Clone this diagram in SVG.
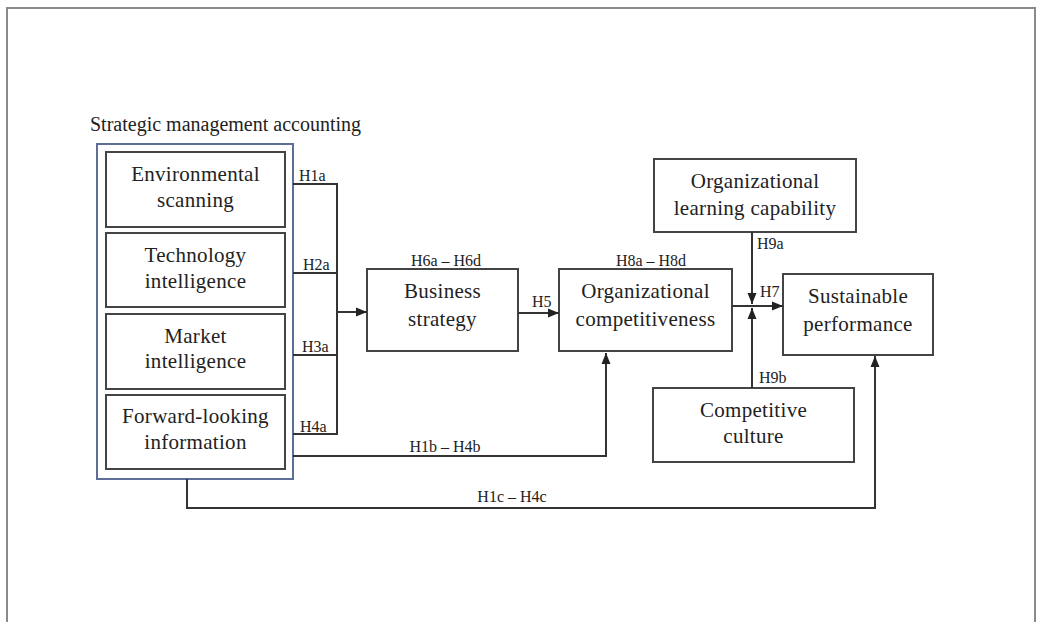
<svg xmlns="http://www.w3.org/2000/svg" width="1037" height="622" viewBox="0 0 1037 622">
<defs>
<style>
.frame{fill:none;stroke:#8a8a8a;stroke-width:2}
.box{fill:#fff;stroke:#444;stroke-width:2}
.outer{fill:#fff;stroke:#5d6f98;stroke-width:2}
.t{font-family:"Liberation Serif","Times New Roman",serif;font-size:21px;letter-spacing:0.3px;fill:#222;text-anchor:middle}
.title{font-family:"Liberation Serif","Times New Roman",serif;font-size:20px;fill:#222}
.lb{font-family:"Liberation Serif","Times New Roman",serif;font-size:16px;fill:#222}
.lbm{font-family:"Liberation Serif","Times New Roman",serif;font-size:16px;fill:#222;text-anchor:middle}
.c{fill:none;stroke:#333;stroke-width:2}
</style>
<marker id="ah" viewBox="0 0 11 10" refX="11" refY="5" markerWidth="11" markerHeight="10" markerUnits="userSpaceOnUse" orient="auto">
<path d="M0,0.5 L11,5 L0,9.5 Z" fill="#222"/>
</marker>
</defs>
<rect class="frame" x="7" y="8" width="1028" height="700"/>
<text class="title" x="90" y="131">Strategic management accounting</text>
<g id="sma">
<rect class="outer" x="97" y="144" width="196" height="335"/>
</g>
<g id="env">
<rect class="box" x="106" y="152" width="179" height="75"/>
<text class="t" x="195.5" y="181">Environmental</text>
<text class="t" x="195.5" y="207">scanning</text>
</g>
<g id="tech">
<rect class="box" x="106" y="233" width="179" height="74"/>
<text class="t" x="195.5" y="262">Technology</text>
<text class="t" x="195.5" y="288">intelligence</text>
</g>
<g id="market">
<rect class="box" x="106" y="314" width="179" height="75"/>
<text class="t" x="195.5" y="343">Market</text>
<text class="t" x="195.5" y="368">intelligence</text>
</g>
<g id="forward">
<rect class="box" x="106" y="395" width="179" height="74"/>
<text class="t" x="195.5" y="423">Forward-looking</text>
<text class="t" x="195.5" y="449">information</text>
</g>
<g id="business">
<rect class="box" x="367" y="269" width="151" height="82"/>
<text class="t" x="442.5" y="298">Business</text>
<text class="t" x="442.5" y="326">strategy</text>
</g>
<g id="orgcomp">
<rect class="box" x="559" y="269" width="173" height="82"/>
<text class="t" x="645.5" y="298">Organizational</text>
<text class="t" x="645.5" y="326">competitiveness</text>
</g>
<g id="olc">
<rect class="box" x="654" y="159" width="202" height="73"/>
<text class="t" x="755" y="188">Organizational</text>
<text class="t" x="755" y="215">learning capability</text>
</g>
<g id="culture">
<rect class="box" x="653" y="388" width="201" height="74"/>
<text class="t" x="753.5" y="417">Competitive</text>
<text class="t" x="753.5" y="443">culture</text>
</g>
<g id="sustain">
<rect class="box" x="783" y="274" width="150" height="81"/>
<text class="t" x="858" y="303">Sustainable</text>
<text class="t" x="858" y="331">performance</text>
</g>
<g id="connectors">
<polyline class="c" points="293,184 337,184 337,434 293,434"/>
<line class="c" x1="293" y1="273" x2="337" y2="273"/>
<line class="c" x1="293" y1="355" x2="337" y2="355"/>
<line class="c" x1="337" y1="312" x2="367" y2="312" marker-end="url(#ah)"/>
<line class="c" x1="518" y1="313" x2="559" y2="313" marker-end="url(#ah)"/>
<line class="c" x1="732" y1="306" x2="783" y2="306" marker-end="url(#ah)"/>
<line class="c" x1="752" y1="232" x2="752" y2="304" marker-end="url(#ah)"/>
<line class="c" x1="752" y1="388" x2="752" y2="308" marker-end="url(#ah)"/>
<polyline class="c" points="293,456 606,456 606,353" marker-end="url(#ah)"/>
<polyline class="c" points="187,479 187,508 875,508 875,356" marker-end="url(#ah)"/>
<text class="lb" x="299" y="181">H1a</text>
<text class="lb" x="303" y="270">H2a</text>
<text class="lb" x="302" y="352">H3a</text>
<text class="lb" x="300" y="432">H4a</text>
<text class="lbm" x="446" y="266">H6a – H6d</text>
<text class="lbm" x="651" y="266">H8a – H8d</text>
<text class="lb" x="532" y="307">H5</text>
<text class="lb" x="760" y="297">H7</text>
<text class="lb" x="757" y="249">H9a</text>
<text class="lb" x="759" y="383">H9b</text>
<text class="lbm" x="445" y="452">H1b – H4b</text>
<text class="lbm" x="512" y="502">H1c – H4c</text>
</g>
</svg>
